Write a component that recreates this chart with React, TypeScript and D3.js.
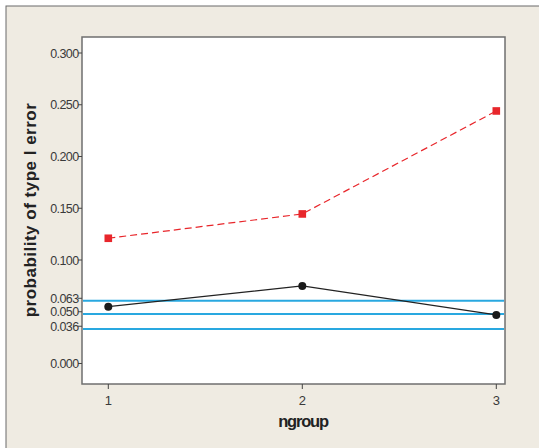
import React from "react";
import * as d3 from "d3";

const groups = [1, 2, 3];
const redSeries = [0.121, 0.1445, 0.244];
const blackSeries = [0.0549, 0.0749, 0.0469];
const refLines = [0.0607, 0.0478, 0.0333];
const yTicks = [0.0, 0.036, 0.05, 0.063, 0.1, 0.15, 0.2, 0.25, 0.3];
const yTickLabels = ["0.000", "0.036", "0.050", "0.063", "0.100", "0.150", "0.200", "0.250", "0.300"];

const W = 539, H = 448;
const plot = { left: 82, top: 37, right: 505, bottom: 384 };

export default function App() {
  const x = d3.scaleLinear().domain([1, 3]).range([108.3, 496.3]);
  const y = d3.scaleLinear().domain([0, 0.3]).range([363.5, 53]);
  const line = d3.line<number>().x((_, i) => x(groups[i])).y((d) => y(d));
  const font = "'Liberation Sans', Arial, sans-serif";
  return (
    <svg width={W} height={H} style={{ position: "absolute", left: 0, top: 0 }}>
      <rect x={0} y={0} width={W} height={H} fill="#fff" />
      <rect x={6} y={6} width={W} height={H} fill="#EFEBE2" stroke="#6b6b6b" strokeWidth={1} />
      <rect x={plot.left} y={plot.top} width={plot.right - plot.left} height={plot.bottom - plot.top} fill="#fff" stroke="#6f6f6f" strokeWidth={1.5} />
      {refLines.map((v, i) => (
        <line key={i} x1={plot.left + 1} x2={plot.right - 1} y1={y(v)} y2={y(v)} stroke="#29A8E0" strokeWidth={2} />
      ))}
      <path d={line(blackSeries) || ""} fill="none" stroke="#222" strokeWidth={1.2} />
      <path d={line(redSeries) || ""} fill="none" stroke="#E8262B" strokeWidth={1.2} strokeDasharray="7,4" />
      {blackSeries.map((v, i) => (
        <circle key={i} cx={x(groups[i])} cy={y(v)} r={4} fill="#1a1a1a" />
      ))}
      {redSeries.map((v, i) => (
        <rect key={i} x={x(groups[i]) - 3.8} y={y(v) - 3.8} width={7.6} height={7.6} fill="#E8262B" />
      ))}
      {yTicks.map((v, i) => (
        <g key={i}>
          <line x1={plot.left - 4} x2={plot.left} y1={y(v)} y2={y(v)} stroke="#444" strokeWidth={1} />
          <text x={plot.left - 3.5} y={y(v)} dy="0.36em" textAnchor="end" fontFamily={font} fontSize={12.5} fill="#3a3a3a" letterSpacing={-0.6}>
            {yTickLabels[i]}
          </text>
        </g>
      ))}
      {groups.map((g, i) => (
        <g key={i}>
          <line x1={x(g)} x2={x(g)} y1={plot.bottom} y2={plot.bottom + 5} stroke="#444" strokeWidth={1} />
          <text x={x(g)} y={plot.bottom + 21} textAnchor="middle" fontFamily={font} fontSize={13} fill="#3a3a3a">
            {g}
          </text>
        </g>
      ))}
      <text x={303} y={427} textAnchor="middle" fontFamily={font} fontSize={16.5} fontWeight="bold" fill="#222" letterSpacing={-1.2}>
        ngroup
      </text>
      <text transform={`translate(36, 210) rotate(-90)`} textAnchor="middle" fontFamily={font} fontSize={17} fontWeight="bold" fill="#222" letterSpacing={0.5}>
        probability of type I error
      </text>
    </svg>
  );
}
